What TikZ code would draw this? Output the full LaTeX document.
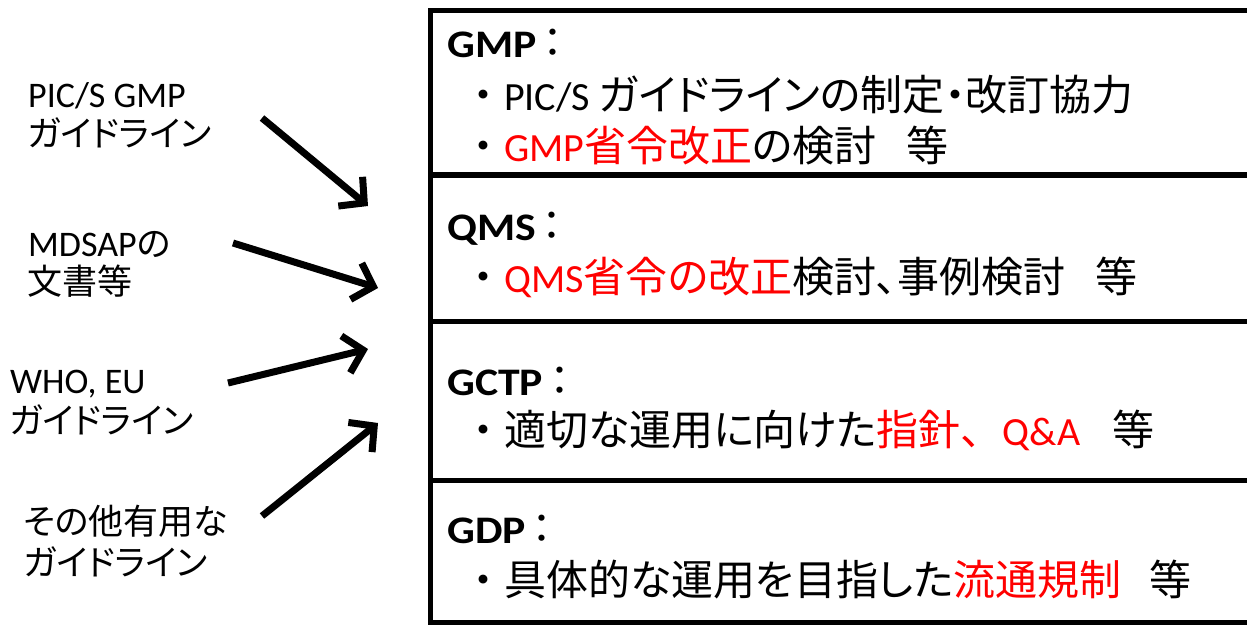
\documentclass[tikz,border=0pt]{standalone}
\usepackage{fontspec}
\usetikzlibrary{arrows.meta}
\setmainfont{Carlito}
\newfontfamily\jp{Noto Sans CJK JP}[RawFeature=+palt]
\newfontfamily\jpb{Noto Sans CJK JP}[Scale=1.05, RawFeature=+palt]
\newfontfamily\jpf{Noto Sans CJK JP}[Scale=1.05]
\newfontfamily\ttl{Carlito}[FakeStretch=1.12]
\definecolor{myred}{RGB}{255,0,0}
\newcommand\bul{{\jpf ・}}
\tikzset{
  boxline/.style={draw=black, line width=5pt},
  lab/.style={anchor=base west, inner sep=0pt, font=\fontsize{36}{40}\selectfont},
  labjp/.style={anchor=base west, inner sep=0pt, font=\fontsize{35}{40}\selectfont\jp},
  title/.style={anchor=base west, inner sep=0pt, font=\fontsize{39}{44}\selectfont\ttl\bfseries},
  item/.style={anchor=base west, inner sep=0pt, font=\fontsize{40}{44}\selectfont},
  arr/.style={line width=7pt, -{Straight Barb[length=18pt, width=38pt]}}
}
\begin{document}
\begin{tikzpicture}[x=1pt, y=-1pt]
\clip (0,0) rectangle (1247,624);
\fill[white] (0,0) rectangle (1247,624);

% boxes
\draw[boxline] (430,10.5) rectangle (1275,174);
\draw[boxline] (430,175) rectangle (1275,321);
\draw[boxline] (430,321) rectangle (1275,480);
\draw[boxline] (430,480) rectangle (1275,622);

% box texts
\node[title] (t1) at (447,57) {GMP\hspace{6pt}{\mdseries\jpb ：}};
\node[item] (l1a) at (462,110) {\bul PIC/S {\jpb ガイドラインの制定・改訂協力}};
\node[item] (l1b) at (462,161) {\bul\textcolor{myred}{GMP{\jpb 省令改正}}{\jpb の検討}\hspace{30pt}{\jpb 等}};

\node[title] (t2) at (447,240) {QMS\hspace{6pt}{\mdseries\jpb ：}};
\node[item] (l2) at (462,292) {\bul\textcolor{myred}{QMS{\jpb 省令の改正}}{\jpb 検討、事例検討}\hspace{30pt}{\jpb 等}};

\node[title] (t3) at (447,395) {GCTP\hspace{6pt}{\mdseries\jpb ：}};
\node[item] (l3) at (462,445) {\bul{\jpb 適切な運用に向けた}\textcolor{myred}{{\jpb 指針}{\jpf 、}Q\&A}\hspace{32pt}{\jpb 等}};

\node[title] (t4) at (447,543) {GDP\hspace{6pt}{\mdseries\jpb ：}};
\node[item] (l4) at (462,595) {\bul{\jpb 具体的な運用を目指した}\textcolor{myred}{\jpb 流通規制}\hspace{28pt}{\jpb 等}};

% left labels
\node[lab] (s1a) at (28,107) {PIC/S GMP};
\node[labjp] (s1b) at (27,146) {ガイドライン};
\node[lab] (s2a) at (28,256) {MDSAP{\fontsize{35}{40}\selectfont\jp の}};
\node[labjp] (s2b) at (27,294) {文書等};
\node[lab] (s3a) at (10,393) {WHO, EU};
\node[labjp] (s3b) at (9,433) {ガイドライン};
\node[labjp] (s4a) at (23,534) {その他有用な};
\node[labjp] (s4b) at (23,575) {ガイドライン};

% arrows
\coordinate (a1s) at (262,118); \coordinate (a1e) at (368,206);
\coordinate (a2s) at (233,243); \coordinate (a2e) at (378,288);
\coordinate (a3s) at (228,383); \coordinate (a3e) at (368,349);
\coordinate (a4s) at (262,516); \coordinate (a4e) at (378,423);
\draw[arr] (a1s) -- (a1e);
\draw[arr] (a2s) -- (a2e);
\draw[arr] (a3s) -- (a3e);
\draw[arr] (a4s) -- (a4e);
\end{tikzpicture}
\end{document}
